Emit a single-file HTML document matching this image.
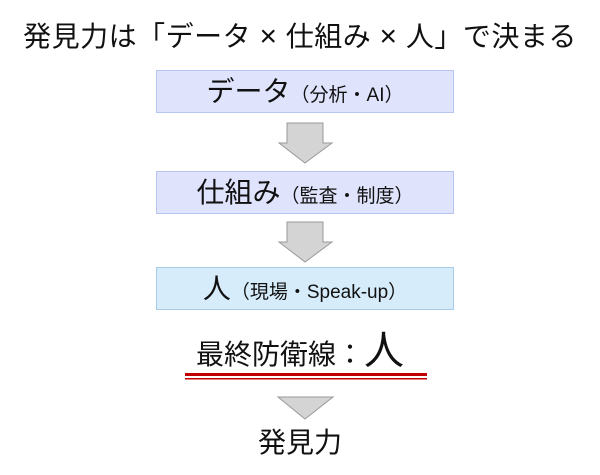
<!DOCTYPE html>
<html><head><meta charset="utf-8"><style>
body{margin:0;width:600px;height:475px;background:#fff;position:relative;overflow:hidden;font-family:"Liberation Sans","Noto Sans CJK JP",sans-serif;color:#111}
.t{position:absolute;left:0;width:600px;text-align:center;white-space:nowrap}
.box{position:absolute;left:156px;width:298px;border:1px solid #b8c4f0;background:#dfe4fc;text-align:center;white-space:nowrap;font-size:28px;box-sizing:border-box}
.s{font-size:19px}
</style></head><body>
<div class="t" style="top:17px;font-size:28px;line-height:40px;letter-spacing:0.5px">発見力は「データ <span style="font-size:30px">×</span> 仕組み <span style="font-size:30px">×</span> 人」で決まる</div>
<div class="box" style="top:70px;height:43px;line-height:41px">データ<span class="s">（分析・AI）</span></div>
<div class="box" style="top:171px;height:43px;line-height:41px">仕組み<span class="s">（監査・制度）</span></div>
<div class="box" style="top:267px;height:43px;line-height:41px;background:#d6ecfb;border-color:#a8cce8">人<span class="s">（現場・Speak-up）</span></div>
<svg width="600" height="475" style="position:absolute;left:0;top:0">
<polygon points="287,123 323,123 323,143 332,143 305,163 279,143 287,143" fill="#d4d4d4" stroke="#999" stroke-width="1"/>
<polygon points="287,222 323,222 323,242 332,242 305,262 279,242 287,242" fill="#d4d4d4" stroke="#999" stroke-width="1"/>
<rect x="185" y="373" width="242" height="3" fill="#c00000"/>
<rect x="185" y="378" width="242" height="1.5" fill="#c00000"/>
<polygon points="278,397 333,397 305,419" fill="#d4d4d4" stroke="#999" stroke-width="1"/>
</svg>
<div class="t" style="top:330px;font-size:28px;line-height:42px">最終防衛線：<span style="font-size:40px">人</span></div>
<div class="t" style="top:424px;font-size:28px;line-height:38px">発見力</div>
</body></html>
